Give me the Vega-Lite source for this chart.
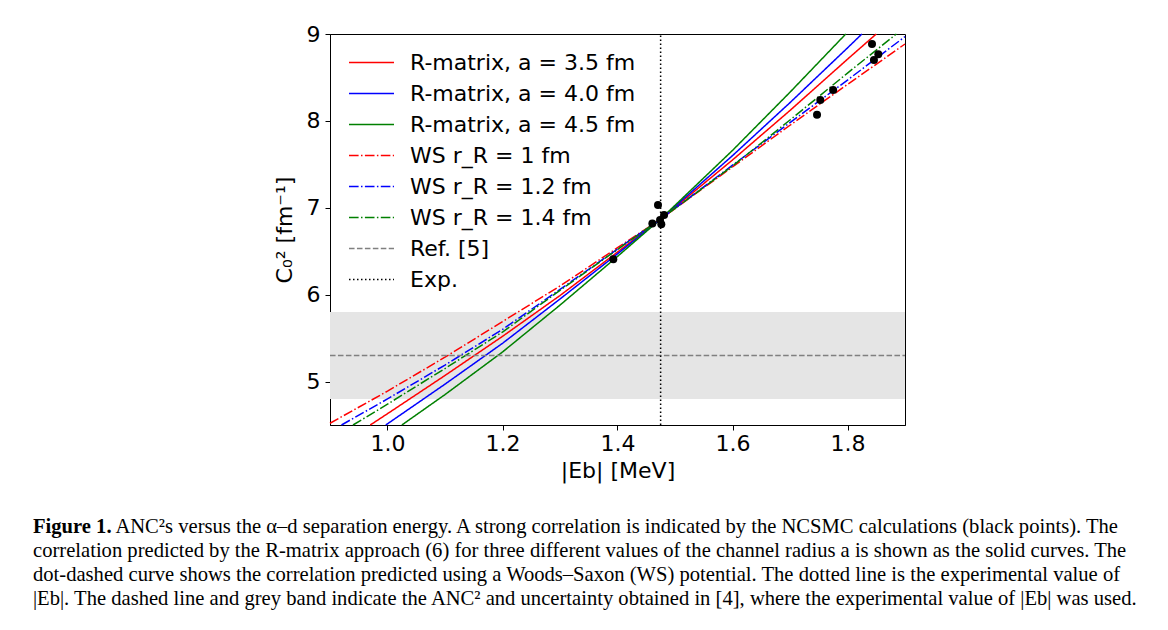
{
  "$schema": "https://vega.github.io/schema/vega-lite/v6.json",
  "width": 575,
  "height": 391,
  "autosize": {"type": "none"},
  "padding": {"left": 330, "top": 34, "right": 263, "bottom": 205},
  "background": "white",
  "title": {
    "text": "Figure 1.",
    "subtitle": [
      "\u200b\u00a0\u00a0\u00a0\u00a0\u00a0\u00a0\u00a0\u00a0\u00a0\u00a0\u00a0\u00a0\u00a0\u00a0\u00a0\u00a0ANC²s versus the α–d separation energy. A strong correlation is indicated by the NCSMC calculations (black points). The",
      "correlation predicted by the R-matrix approach (6) for three different values of the channel radius a is shown as the solid curves. The",
      "dot-dashed curve shows the correlation predicted using a Woods–Saxon (WS) potential. The dotted line is the experimental value of",
      "|Eb|. The dashed line and grey band indicate the ANC² and uncertainty obtained in [4], where the experimental value of |Eb| was used."
    ],
    "orient": "bottom",
    "anchor": "start",
    "frame": "group",
    "dx": -297,
    "offset": 36,
    "font": "Liberation Serif",
    "fontSize": 20.6,
    "fontWeight": "bold",
    "color": "black",
    "subtitleFont": "Liberation Serif",
    "subtitleFontSize": 20.6,
    "subtitleColor": "black",
    "subtitleLineHeight": 24,
    "subtitlePadding": -20.6
  },
  "layer": [
    {
      "data": {"values": [{"xmin": 0.9, "xmax": 1.9, "ymin": 4.8, "ymax": 5.8}]},
      "mark": {"type": "rect", "color": "#e5e5e5"},
      "encoding": {
        "x": {"field": "xmin", "type": "quantitative", "title": "|Eb| [MeV]"},
        "x2": {"field": "xmax"},
        "y": {"field": "ymin", "type": "quantitative", "title": "C₀² [fm⁻¹]"},
        "y2": {"field": "ymax"}
      }
    },
    {
      "data": {"values": [
        {"series": "R-matrix, a = 3.5 fm", "i": 0, "E": 0.97, "C": 4.5},
        {"series": "R-matrix, a = 3.5 fm", "i": 1, "E": 1.0, "C": 4.63},
        {"series": "R-matrix, a = 3.5 fm", "i": 2, "E": 1.1, "C": 5.07},
        {"series": "R-matrix, a = 3.5 fm", "i": 3, "E": 1.2, "C": 5.52},
        {"series": "R-matrix, a = 3.5 fm", "i": 4, "E": 1.3, "C": 5.99},
        {"series": "R-matrix, a = 3.5 fm", "i": 5, "E": 1.4, "C": 6.49},
        {"series": "R-matrix, a = 3.5 fm", "i": 6, "E": 1.475, "C": 6.87},
        {"series": "R-matrix, a = 3.5 fm", "i": 7, "E": 1.6, "C": 7.55},
        {"series": "R-matrix, a = 3.5 fm", "i": 8, "E": 1.7, "C": 8.12},
        {"series": "R-matrix, a = 3.5 fm", "i": 9, "E": 1.8, "C": 8.71},
        {"series": "R-matrix, a = 3.5 fm", "i": 10, "E": 1.85, "C": 9.0},
        {"series": "R-matrix, a = 4.0 fm", "i": 0, "E": 0.997, "C": 4.5},
        {"series": "R-matrix, a = 4.0 fm", "i": 1, "E": 1.1, "C": 4.97},
        {"series": "R-matrix, a = 4.0 fm", "i": 2, "E": 1.2, "C": 5.44},
        {"series": "R-matrix, a = 4.0 fm", "i": 3, "E": 1.3, "C": 5.95},
        {"series": "R-matrix, a = 4.0 fm", "i": 4, "E": 1.4, "C": 6.47},
        {"series": "R-matrix, a = 4.0 fm", "i": 5, "E": 1.475, "C": 6.87},
        {"series": "R-matrix, a = 4.0 fm", "i": 6, "E": 1.6, "C": 7.6},
        {"series": "R-matrix, a = 4.0 fm", "i": 7, "E": 1.7, "C": 8.21},
        {"series": "R-matrix, a = 4.0 fm", "i": 8, "E": 1.8, "C": 8.84},
        {"series": "R-matrix, a = 4.0 fm", "i": 9, "E": 1.825, "C": 9.0},
        {"series": "R-matrix, a = 4.5 fm", "i": 0, "E": 1.025, "C": 4.5},
        {"series": "R-matrix, a = 4.5 fm", "i": 1, "E": 1.1, "C": 4.85},
        {"series": "R-matrix, a = 4.5 fm", "i": 2, "E": 1.2, "C": 5.34},
        {"series": "R-matrix, a = 4.5 fm", "i": 3, "E": 1.3, "C": 5.88},
        {"series": "R-matrix, a = 4.5 fm", "i": 4, "E": 1.4, "C": 6.44},
        {"series": "R-matrix, a = 4.5 fm", "i": 5, "E": 1.475, "C": 6.87},
        {"series": "R-matrix, a = 4.5 fm", "i": 6, "E": 1.6, "C": 7.66},
        {"series": "R-matrix, a = 4.5 fm", "i": 7, "E": 1.7, "C": 8.33},
        {"series": "R-matrix, a = 4.5 fm", "i": 8, "E": 1.797, "C": 9.0},
        {"series": "WS r_R = 1 fm", "i": 0, "E": 0.9, "C": 4.52},
        {"series": "WS r_R = 1 fm", "i": 1, "E": 1.0, "C": 4.89},
        {"series": "WS r_R = 1 fm", "i": 2, "E": 1.1, "C": 5.28},
        {"series": "WS r_R = 1 fm", "i": 3, "E": 1.2, "C": 5.69},
        {"series": "WS r_R = 1 fm", "i": 4, "E": 1.3, "C": 6.1},
        {"series": "WS r_R = 1 fm", "i": 5, "E": 1.4, "C": 6.54},
        {"series": "WS r_R = 1 fm", "i": 6, "E": 1.475, "C": 6.87},
        {"series": "WS r_R = 1 fm", "i": 7, "E": 1.6, "C": 7.47},
        {"series": "WS r_R = 1 fm", "i": 8, "E": 1.7, "C": 7.95},
        {"series": "WS r_R = 1 fm", "i": 9, "E": 1.8, "C": 8.42},
        {"series": "WS r_R = 1 fm", "i": 10, "E": 1.9, "C": 8.885},
        {"series": "WS r_R = 1.2 fm", "i": 0, "E": 0.92, "C": 4.5},
        {"series": "WS r_R = 1.2 fm", "i": 1, "E": 1.0, "C": 4.8},
        {"series": "WS r_R = 1.2 fm", "i": 2, "E": 1.1, "C": 5.19},
        {"series": "WS r_R = 1.2 fm", "i": 3, "E": 1.2, "C": 5.6},
        {"series": "WS r_R = 1.2 fm", "i": 4, "E": 1.3, "C": 6.06},
        {"series": "WS r_R = 1.2 fm", "i": 5, "E": 1.4, "C": 6.525},
        {"series": "WS r_R = 1.2 fm", "i": 6, "E": 1.475, "C": 6.87},
        {"series": "WS r_R = 1.2 fm", "i": 7, "E": 1.6, "C": 7.49},
        {"series": "WS r_R = 1.2 fm", "i": 8, "E": 1.7, "C": 7.98},
        {"series": "WS r_R = 1.2 fm", "i": 9, "E": 1.8, "C": 8.47},
        {"series": "WS r_R = 1.2 fm", "i": 10, "E": 1.9, "C": 8.97},
        {"series": "WS r_R = 1.4 fm", "i": 0, "E": 0.94, "C": 4.5},
        {"series": "WS r_R = 1.4 fm", "i": 1, "E": 1.0, "C": 4.74},
        {"series": "WS r_R = 1.4 fm", "i": 2, "E": 1.1, "C": 5.15},
        {"series": "WS r_R = 1.4 fm", "i": 3, "E": 1.2, "C": 5.57},
        {"series": "WS r_R = 1.4 fm", "i": 4, "E": 1.3, "C": 6.05},
        {"series": "WS r_R = 1.4 fm", "i": 5, "E": 1.4, "C": 6.52},
        {"series": "WS r_R = 1.4 fm", "i": 6, "E": 1.475, "C": 6.87},
        {"series": "WS r_R = 1.4 fm", "i": 7, "E": 1.6, "C": 7.48},
        {"series": "WS r_R = 1.4 fm", "i": 8, "E": 1.7, "C": 8.01},
        {"series": "WS r_R = 1.4 fm", "i": 9, "E": 1.8, "C": 8.55},
        {"series": "WS r_R = 1.4 fm", "i": 10, "E": 1.885, "C": 9.0},
        {"series": "Ref. [5]", "i": 0, "E": 0.9, "C": 5.3},
        {"series": "Ref. [5]", "i": 1, "E": 1.9, "C": 5.3},
        {"series": "Exp.", "i": 0, "E": 1.475, "C": 4.5},
        {"series": "Exp.", "i": 1, "E": 1.475, "C": 9.0}
      ]},
      "mark": {"type": "line", "strokeWidth": 1.5},
      "encoding": {
        "x": {"field": "E", "type": "quantitative", "title": "|Eb| [MeV]",
              "scale": {"domain": [0.9, 1.9], "nice": false, "zero": false},
              "axis": {"values": [1.0, 1.2, 1.4, 1.6, 1.8], "format": ".1f"}},
        "y": {"field": "C", "type": "quantitative", "title": "C₀² [fm⁻¹]",
              "scale": {"domain": [4.5, 9], "nice": false, "zero": false},
              "axis": {"values": [5, 6, 7, 8, 9], "format": "d"}},
        "order": {"field": "i"},
        "color": {"field": "series", "type": "nominal", "title": null,
                  "scale": {"domain": ["R-matrix, a = 3.5 fm", "R-matrix, a = 4.0 fm", "R-matrix, a = 4.5 fm", "WS r_R = 1 fm", "WS r_R = 1.2 fm", "WS r_R = 1.4 fm", "Ref. [5]", "Exp."],
                            "range": ["#ff0000", "#0000ff", "#008000", "#ff0000", "#0000ff", "#008000", "#808080", "#000000"]}},
        "strokeDash": {"field": "series", "type": "nominal", "title": null,
                  "scale": {"domain": ["R-matrix, a = 3.5 fm", "R-matrix, a = 4.0 fm", "R-matrix, a = 4.5 fm", "WS r_R = 1 fm", "WS r_R = 1.2 fm", "WS r_R = 1.4 fm", "Ref. [5]", "Exp."],
                            "range": [[1, 0], [1, 0], [1, 0], [9.6, 2.4, 1.5, 2.4], [9.6, 2.4, 1.5, 2.4], [9.6, 2.4, 1.5, 2.4], [5.55, 2.4], [1.5, 2.5]]}}
      }
    },
    {
      "data": {"values": [
        {"E": 1.3927, "C": 6.407},
        {"E": 1.4606, "C": 6.82},
        {"E": 1.4704, "C": 7.032},
        {"E": 1.4762, "C": 6.81},
        {"E": 1.481, "C": 6.917},
        {"E": 1.474, "C": 6.86},
        {"E": 1.747, "C": 8.07},
        {"E": 1.7527, "C": 8.24},
        {"E": 1.775, "C": 8.356},
        {"E": 1.8426, "C": 8.885},
        {"E": 1.8536, "C": 8.766},
        {"E": 1.846, "C": 8.7}
      ]},
      "mark": {"type": "circle", "color": "black", "opacity": 1, "size": 64},
      "encoding": {
        "x": {"field": "E", "type": "quantitative", "title": "|Eb| [MeV]"},
        "y": {"field": "C", "type": "quantitative", "title": "C₀² [fm⁻¹]"}
      }
    }
  ],
  "config": {
    "view": {"stroke": "black", "strokeWidth": 1},
    "font": "DejaVu Sans",
    "axis": {
      "grid": false,
      "domainColor": "black",
      "tickColor": "black",
      "tickSize": 5,
      "labelFont": "DejaVu Sans",
      "labelFontSize": 22,
      "labelColor": "black",
      "titleFont": "DejaVu Sans",
      "titleFontSize": 22,
      "titleFontWeight": "normal",
      "titleColor": "black"
    },
    "axisX": {"labelPadding": 3, "titlePadding": 6},
    "axisY": {"labelPadding": 5, "titlePadding": 10},
    "legend": {
      "orient": "none",
      "legendX": 18,
      "legendY": 13,
      "padding": 0,
      "symbolType": "stroke",
      "symbolSize": 2025,
      "symbolStrokeWidth": 1.5,
      "clipHeight": 31,
      "rowPadding": 0,
      "labelOffset": 15,
      "labelFont": "DejaVu Sans",
      "labelFontSize": 22,
      "labelColor": "black",
      "labelLimit": 400
    }
  }
}
